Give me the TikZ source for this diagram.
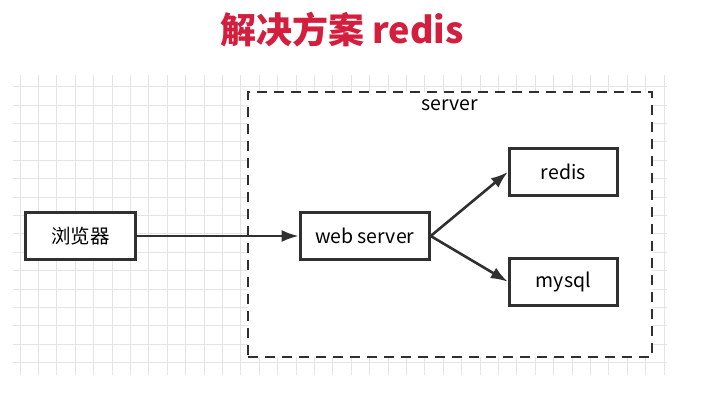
\documentclass[tikz,border=0pt]{standalone}
\usepackage{fontspec}
\setmainfont{Noto Sans CJK SC}
\usetikzlibrary{arrows.meta}
\definecolor{titlered}{RGB}{212,30,62}
\definecolor{linegray}{RGB}{48,48,48}
\definecolor{gridgray}{RGB}{228,228,228}
\begin{document}
\begin{tikzpicture}[x=1pt,y=-1pt,
   box/.style={draw=linegray,line width=3pt,fill=white,minimum width=110pt,minimum height=47pt,inner sep=0pt,font=\fontsize{19.5}{22}\selectfont},
   link/.style={draw=linegray,line width=2.6pt,-{Latex[length=17pt,width=12pt]}}]
   \useasboundingbox (0,0) rectangle (722,404);

   % grid
   \begin{scope}
     \clip (13,75) rectangle (667,375);
     \foreach \i in {0,...,35} \draw[gridgray,line width=1pt] (20+18.4*\i,75) -- (20+18.4*\i,375);
     \foreach \j in {0,...,16} \draw[gridgray,line width=1pt] (13,86.7+18.4*\j) -- (667,86.7+18.4*\j);
   \end{scope}

   \node[text=titlered,font=\fontsize{36}{40}\selectfont\bfseries] (title) at (342,30) {解决方案 redis};

   \node[draw=linegray,line width=2.8pt,dash pattern=on 10pt off 7pt,fill=white,minimum width=404pt,minimum height=265pt] (server) at (450,224.5) {};
   \node[font=\fontsize{19.5}{22}\selectfont] (serverlabel) at (450,105) {server};

   \node[box] (browser) at (80.5,236) {浏览器};
   \node[box,minimum width=129pt] (web) at (364.7,236) {web server};
   \node[box,minimum width=108pt] (redis) at (563.3,172) {redis};
   \node[box,minimum width=108pt] (mysql) at (563.3,281.7) {mysql};

   \draw[link] (browser) -- (web);
   \draw[link] (web.east) -- (redis.west);
   \draw[link] (web.east) -- (mysql.west);
\end{tikzpicture}
\end{document}
